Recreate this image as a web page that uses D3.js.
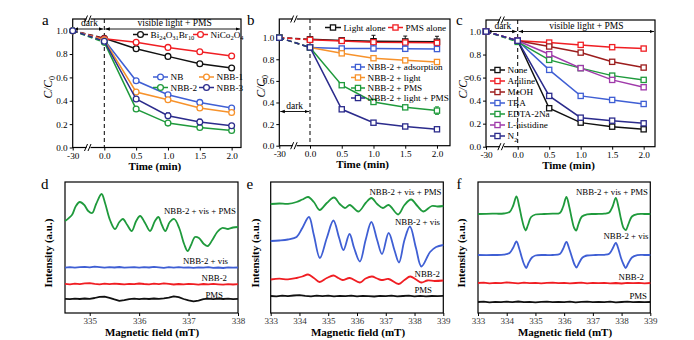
<!DOCTYPE html>
<html>
<head>
<meta charset="utf-8">
<script src="https://cdn.jsdelivr.net/npm/d3@7"></script>
<style>
  body { margin: 0; background: #fff; }
  svg, svg text { font-family: "Liberation Serif", "Times New Roman", Times, serif; }
</style>
</head>
<body>
<div id="chart"></div>
<script>
// ---------- data: degradation panels (a, b, c) ----------
const times = [-30, 0, 0.5, 1.0, 1.5, 2.0];
const timeLabels = ["-30", "0.0", "0.5", "1.0", "1.5", "2.0"];
const ratioTicks = [0, 0.2, 0.4, 0.6, 0.8, 1.0];

// a: catalysts
const aNames = ["Bi_24O_31Br_10", "NiCo_2O_4", "NB", "NBB-1", "NBB-2", "NBB-3"];
const aBiOBr = [1.0, 0.935, 0.846, 0.78, 0.717, 0.68];
const aNiCo = [1.0, 0.93, 0.90, 0.857, 0.82, 0.783];
const aNB = [1.0, 0.92, 0.571, 0.452, 0.386, 0.338];
const aNBB1 = [1.0, 0.92, 0.475, 0.409, 0.338, 0.30];
const aNBB2 = [1.0, 0.90, 0.329, 0.209, 0.171, 0.146];
const aNBB3 = [1.0, 0.91, 0.415, 0.272, 0.218, 0.186];
const aErrNB = [0, 0.01, 0.01, 0.015, 0.02, 0.015];
const aErrNBB3 = [0, 0.01, 0.01, 0.025, 0.025, 0.02];

// b: control experiments
const bNames = ["Light alone", "PMS alone", "NBB-2 + adsorption", "NBB-2 + light", "NBB-2 + PMS", "NBB-2 + light + PMS"];
const bLight = [1.0, 0.985, 0.975, 0.967, 0.965, 0.963];
const bPMS = [1.0, 0.98, 0.97, 0.958, 0.955, 0.952];
const bAdsorb = [1.0, 0.91, 0.90, 0.90, 0.897, 0.895];
const bLightCat = [1.0, 0.91, 0.855, 0.81, 0.79, 0.775];
const bPMSCat = [1.0, 0.91, 0.56, 0.405, 0.355, 0.325];
const bAll = [1.0, 0.91, 0.337, 0.213, 0.178, 0.152];
const bErrLight = [0, 0.02, 0.015, 0.055, 0.05, 0.05];
const bErrPMS = [0, 0.015, 0.01, 0.02, 0.02, 0.02];
const bErrAdsorb = [0, 0.01, 0.01, 0.02, 0.025, 0.02];
const bErrPMSCat = [0, 0, 0.01, 0.02, 0.015, 0.035];

// c: scavengers
const cNames = ["None", "Aniline", "MeOH", "TBA", "EDTA-2Na", "L-histidine", "N_2"];
const cNone = [1.0, 0.92, 0.334, 0.209, 0.174, 0.151];
const cAniline = [1.0, 0.92, 0.904, 0.884, 0.864, 0.852];
const cMeOH = [1.0, 0.92, 0.87, 0.817, 0.737, 0.687];
const cTBA = [1.0, 0.92, 0.667, 0.441, 0.406, 0.371];
const cEDTA = [1.0, 0.91, 0.754, 0.682, 0.617, 0.58];
const cHis = [1.0, 0.92, 0.803, 0.682, 0.58, 0.516];
const cN2 = [1.0, 0.92, 0.441, 0.252, 0.226, 0.203];

// ---------- data: EPR panels (d, e, f) ----------
const dField = [334.5, 334.6, 334.7, 334.8, 334.9, 335.0, 335.1, 335.2, 335.3, 335.4, 335.5, 335.6,
  335.7, 335.8, 335.9, 336.0, 336.1, 336.2, 336.3, 336.4, 336.5, 336.6, 336.7, 336.8, 336.9, 337.0,
  337.1, 337.2, 337.3, 337.4, 337.5, 337.6, 337.7, 337.8, 337.9, 338.0];
const dVis = [45.3, 45.9, 45.4, 45.8, 46.2, 45.6, 46.4, 45.9, 45.3, 45.8, 45.5, 46.0, 45.4, 45.7, 45.9,
  45.3, 45.8, 45.5, 46.1, 45.6, 45.2, 45.8, 45.4, 45.9, 45.3, 45.6, 45.1, 45.7, 45.4, 45.8, 45.2, 45.5,
  45.0, 45.6, 45.3, 45.5];
const dCat = [29.2, 28.6, 29.4, 28.9, 29.6, 29.8, 29.1, 28.7, 29.3, 28.8, 29.4, 29.0, 28.6, 29.2, 28.9,
  29.5, 29.0, 28.7, 29.3, 28.8, 29.6, 29.1, 28.5, 29.0, 28.6, 29.2, 28.8, 28.4, 29.0, 28.6, 29.1, 28.7,
  28.3, 28.9, 28.5, 28.9];
const dPMS = [14.2, 13.8, 14.3, 14.0, 14.5, 14.2, 15.0, 16.2, 16.4, 15.2, 13.6, 12.2, 12.8, 13.9, 14.3,
  13.9, 14.4, 14.0, 14.5, 14.1, 14.6, 15.4, 16.6, 15.8, 14.0, 12.6, 11.6, 12.4, 13.8, 14.3, 13.9, 14.4,
  14.0, 14.3, 13.9, 14.1];
const dVisPMS = [[334.5, 92], [334.64, 98], [334.72, 107], [334.8, 111], [334.89, 108], [334.97, 102],
  [335.05, 100], [335.13, 109], [335.24, 119], [335.31, 110], [335.41, 93], [335.51, 84], [335.6, 91],
  [335.67, 94], [335.76, 88], [335.85, 82], [335.94, 92], [336.02, 97], [336.12, 90], [336.22, 82],
  [336.32, 92], [336.39, 96], [336.46, 88], [336.53, 82], [336.62, 91], [336.71, 94], [336.81, 85],
  [336.91, 69], [336.98, 62], [337.05, 68], [337.13, 76], [337.21, 75], [337.31, 69], [337.39, 67],
  [337.48, 73], [337.58, 81], [337.68, 85], [337.8, 84], [337.9, 85.5], [338.0, 86]];

const efField = [333.0, 333.2, 333.4, 333.6, 333.8, 334.0, 334.2, 334.4, 334.6, 334.8, 335.0, 335.2,
  335.4, 335.6, 335.8, 336.0, 336.2, 336.4, 336.6, 336.8, 337.0, 337.2, 337.4, 337.6, 337.8, 338.0,
  338.2, 338.4, 338.6, 338.8, 339.0];
const ePMS = [17.0, 16.6, 17.3, 16.8, 17.5, 17.9, 17.2, 16.7, 17.4, 16.9, 17.3, 16.6, 17.1, 16.8, 17.4,
  16.7, 17.2, 16.9, 16.5, 17.1, 16.8, 17.3, 16.6, 17.0, 17.4, 16.7, 17.1, 16.6, 17.0, 16.8, 17.1];
const eCat = [[333.0, 33.5], [333.3, 34.3], [333.6, 33.6], [333.9, 35], [334.1, 36.5], [334.3, 38.5],
  [334.5, 35], [334.7, 31], [334.95, 35], [335.18, 37.5], [335.35, 35], [335.5, 33], [335.75, 35],
  [336.1, 30.5], [336.3, 34.5], [336.52, 36.5], [336.7, 34.5], [336.85, 33], [337.1, 34], [337.45, 29],
  [337.65, 33], [337.85, 36.5], [338.05, 33.5], [338.24, 30.5], [338.45, 32.5], [338.7, 32], [339.0, 32.5]];
const eVis = [[333.0, 72], [333.3, 72.5], [333.6, 73.5], [333.9, 76], [334.1, 85], [334.33, 96],
  [334.5, 78], [334.71, 55], [334.95, 75], [335.18, 92.5], [335.38, 75], [335.53, 63], [335.74, 79],
  [335.9, 65], [336.1, 51.5], [336.3, 73], [336.5, 91], [336.7, 73], [336.87, 59], [337.1, 80],
  [337.3, 63], [337.46, 50.5], [337.65, 73], [337.84, 86.5], [338.05, 65], [338.24, 46.5],
  [338.54, 61], [338.75, 66], [339.0, 68]];
const eVisPMS = [[333.0, 109], [333.3, 109.5], [333.6, 109.2], [333.9, 111], [334.1, 113.5], [334.3, 116],
  [334.5, 111], [334.7, 103], [334.95, 110], [335.2, 115.5], [335.4, 109], [335.58, 105], [335.75, 108],
  [336.05, 101.5], [336.3, 110], [336.5, 115], [336.7, 109], [336.9, 105], [337.1, 108], [337.43, 98.5],
  [337.65, 108], [337.88, 113.5], [338.1, 107], [338.3, 101.5], [338.6, 107], [338.8, 106.5], [339.0, 107]];

const fPMS = [11.0, 11.4, 10.7, 11.2, 10.8, 11.3, 10.9, 11.5, 10.8, 11.2, 10.7, 11.1, 11.4, 10.8, 11.2,
  10.9, 11.3, 10.7, 11.1, 11.4, 10.8, 11.2, 10.9, 11.3, 10.6, 11.0, 11.3, 10.8, 11.1, 10.9, 11.0];
const fCat = [30.0, 30.4, 29.7, 30.2, 29.8, 30.6, 30.1, 29.6, 30.3, 29.9, 30.2, 29.7, 30.1, 30.4, 29.8,
  30.2, 29.6, 30.0, 30.3, 29.7, 30.1, 29.8, 30.2, 29.6, 30.0, 29.5, 30.1, 29.8, 30.2, 29.7, 30.0];
const fVis = [[333.0, 58], [333.5, 58], [333.9, 58.3], [334.1, 60], [334.22, 65], [334.34, 71.5],
  [334.44, 64], [334.52, 56], [334.6, 49], [334.68, 45], [334.76, 50], [334.88, 55.5], [335.0, 57.5],
  [335.3, 58], [335.6, 58], [335.85, 59], [335.96, 64], [336.08, 71], [336.18, 64], [336.27, 56],
  [336.36, 48.5], [336.43, 45.5], [336.52, 50], [336.64, 55.5], [336.8, 57.5], [337.1, 58], [337.4, 58.2],
  [337.57, 59.3], [337.68, 64], [337.8, 70], [337.9, 63], [337.98, 55], [338.07, 48.5], [338.14, 45],
  [338.23, 49.5], [338.36, 55.5], [338.55, 57.8], [338.8, 58], [339.0, 58]];
const fVisPMS = [[333.0, 99], [333.5, 99.3], [333.9, 99.5], [334.1, 101], [334.22, 107], [334.34, 116.5],
  [334.44, 106], [334.52, 95], [334.6, 86], [334.66, 82.5], [334.74, 88], [334.85, 96], [335.0, 98.5],
  [335.3, 99], [335.6, 99.3], [335.85, 100], [335.96, 106], [336.08, 116], [336.18, 106], [336.26, 95],
  [336.35, 85], [336.42, 82.5], [336.5, 89], [336.62, 96.5], [336.8, 98.7], [337.1, 99], [337.4, 99.3],
  [337.57, 100.5], [337.68, 106], [337.8, 115], [337.9, 105], [337.98, 94], [338.07, 85], [338.15, 83],
  [338.24, 89], [338.36, 96.5], [338.55, 98.8], [338.8, 99], [339.0, 99]];

const eprLabels = ["NBB-2 + vis + PMS", "NBB-2 + vis", "NBB-2", "PMS"];

// ---------- drawing ----------
const W = 694, H = 340;
const FONT = "'Liberation Serif', 'Times New Roman', Times, serif";
const col = {
  black: "#111111", red: "#f01e23", blue: "#3f5fd4", orange: "#f7922b",
  green: "#1f9a3c", navy: "#2b2b8c", maroon: "#9c1d1d", purple: "#a03aaa"
};

const svg = d3.select("#chart").append("svg")
  .attr("width", W).attr("height", H)
  .attr("font-family", FONT);

svg.append("defs").append("marker")
  .attr("id", "arr").attr("viewBox", "0 0 8 8").attr("refX", 8).attr("refY", 4)
  .attr("markerWidth", 5).attr("markerHeight", 5).attr("orient", "auto-start-reverse")
  .append("path").attr("d", "M0,0.8L8,4L0,7.2Z").attr("fill", "#000");

// text with _digits as subscripts
function richText(sel, str, size) {
  let low = false;
  str.split(/(_\d+)/).filter(s => s).forEach(p => {
    const sub = p[0] === "_";
    const t = sel.append("tspan").text(sub ? p.slice(1) : p);
    if (sub) { t.attr("font-size", size * 0.7).attr("dy", size * 0.3); low = true; }
    else if (low) { t.attr("dy", -size * 0.3); low = false; }
  });
}

function panelLetter(txt, x, y) {
  svg.append("text").attr("x", x).attr("y", y).attr("font-size", 15).text(txt);
}

function styleAxis(g, size) {
  g.attr("font-family", FONT).attr("font-size", size);
  g.select(".domain").remove();
  g.selectAll(".tick line").attr("stroke", "#000");
}

function timePanel(o) {
  const g = svg.append("g");
  const x = d3.scaleLinear().domain([-30, 0, o.xMax]).range([o.left, o.x0, o.right]);
  const y = d3.scaleLinear().domain([0, o.yMax]).range([o.bottom, o.top]);

  g.append("g").attr("transform", `translate(0,${o.bottom})`)
    .call(d3.axisBottom(x).tickValues(times).tickFormat((d, i) => timeLabels[i]).tickSize(3).tickPadding(1.5))
    .call(a => styleAxis(a, 9.2));
  g.append("g").attr("transform", `translate(${o.left},0)`)
    .call(d3.axisLeft(y).tickValues(ratioTicks).tickFormat(d3.format(".1f")).tickSize(3).tickPadding(2))
    .call(a => styleAxis(a, 9.2));

  // frame
  g.append("rect").attr("x", o.left).attr("y", o.top)
    .attr("width", o.right - o.left).attr("height", o.bottom - o.top)
    .attr("fill", "none").attr("stroke", "#000").attr("stroke-width", 1.2);

  // axis breaks
  const bx = x(-15);
  [o.top, o.bottom].forEach(by => {
    g.append("rect").attr("x", bx - 2).attr("y", by - 2).attr("width", 4).attr("height", 4).attr("fill", "#fff");
    [-2.5, 1].forEach(dx => g.append("line")
      .attr("x1", bx + dx - 1.5).attr("y1", by + 3.5).attr("x2", bx + dx + 1.5).attr("y2", by - 3.5)
      .attr("stroke", "#000").attr("stroke-width", 1));
  });

  // dark / light dividing line
  g.append("line").attr("x1", x(0)).attr("x2", x(0)).attr("y1", o.top).attr("y2", o.bottom)
    .attr("stroke", "#000").attr("stroke-width", 1).attr("stroke-dasharray", "4,3");

  o.arrows.forEach(a => {
    g.append("line").attr("x1", x(a.from) + 1).attr("x2", x(a.to) - 1).attr("y1", a.y).attr("y2", a.y)
      .attr("stroke", "#000").attr("stroke-width", 0.9)
      .attr("marker-start", "url(#arr)").attr("marker-end", "url(#arr)");
    g.append("text").attr("x", (x(a.from) + x(a.to)) / 2 + (a.shift || 0)).attr("y", a.y - 3)
      .attr("text-anchor", "middle").attr("font-size", 9.5).text(a.label);
  });

  const line = d3.line().x(d => x(d[0])).y(d => y(d[1]));
  const drawMarker = (sel, cx, cy, c) => {
    if (o.circles) {
      sel.append("circle").attr("cx", cx).attr("cy", cy).attr("r", 2.9)
        .attr("fill", "#fff").attr("stroke", c).attr("stroke-width", 1.3);
    } else {
      sel.append("rect").attr("x", cx - 2.6).attr("y", cy - 2.6).attr("width", 5.2).attr("height", 5.2)
        .attr("fill", "#fff").attr("stroke", c).attr("stroke-width", 1.3);
    }
  };

  o.series.forEach(s => {
    const pts = times.map((t, i) => [t, s.vals[i]]);
    g.append("path").attr("d", line(pts.slice(0, 2))).attr("fill", "none")
      .attr("stroke", s.color).attr("stroke-width", 1.5).attr("stroke-dasharray", "5,3");
    g.append("path").attr("d", line(pts.slice(1))).attr("fill", "none")
      .attr("stroke", s.color).attr("stroke-width", 1.5);
    if (s.err) {
      pts.forEach((p, i) => {
        const e = s.err[i];
        if (!e) return;
        const cx = x(p[0]);
        g.append("line").attr("x1", cx).attr("x2", cx).attr("y1", y(p[1] - e)).attr("y2", y(p[1] + e))
          .attr("stroke", s.color).attr("stroke-width", 1);
        [p[1] - e, p[1] + e].forEach(v => g.append("line").attr("x1", cx - 2).attr("x2", cx + 2)
          .attr("y1", y(v)).attr("y2", y(v)).attr("stroke", s.color).attr("stroke-width", 1));
      });
    }
    pts.forEach(p => drawMarker(g, x(p[0]), y(p[1]), s.color));
  });

  // legend
  o.legend.forEach(l => {
    const s = o.series[l.s];
    const len = l.len || 15;
    g.append("line").attr("x1", l.x).attr("x2", l.x + len).attr("y1", l.y).attr("y2", l.y)
      .attr("stroke", s.color).attr("stroke-width", 1.5);
    drawMarker(g, l.x + len / 2, l.y, s.color);
    const t = g.append("text").attr("x", l.x + len + 2.5).attr("y", l.y + 3.2).attr("font-size", 9.2);
    richText(t, s.name, 9.2);
  });

  // axis titles
  g.append("text").attr("x", (o.left + o.right) / 2 - 2).attr("y", o.bottom + 22.5)
    .attr("text-anchor", "middle").attr("font-size", 11).attr("font-weight", "bold").text("Time (min)");
  const yt = g.append("text").attr("transform", `translate(${o.yTitleX},${(o.top + o.bottom) / 2 + 4}) rotate(-90)`)
    .attr("text-anchor", "middle").attr("font-size", 11.5).attr("font-style", "italic");
  yt.append("tspan").text("C/C");
  yt.append("tspan").attr("font-size", 8).attr("dy", 3).attr("font-style", "normal").text("0");
}

// ---- panel a ----
timePanel({
  left: 72.7, right: 241, top: 19, bottom: 147.5, x0: 104.3, xMax: 2.147, yMax: 1.1,
  circles: true, yTitleX: 52,
  series: [
    { name: aNames[0], vals: aBiOBr, color: col.black },
    { name: aNames[1], vals: aNiCo, color: col.red },
    { name: aNames[2], vals: aNB, color: col.blue, err: aErrNB },
    { name: aNames[3], vals: aNBB1, color: col.orange },
    { name: aNames[4], vals: aNBB2, color: col.green },
    { name: aNames[5], vals: aNBB3, color: col.navy, err: aErrNBB3 }
  ],
  legend: [
    { s: 0, x: 133, y: 34.5 }, { s: 1, x: 193, y: 34.5 },
    { s: 2, x: 153, y: 77 }, { s: 3, x: 199, y: 77 },
    { s: 4, x: 153, y: 87.5 }, { s: 5, x: 199, y: 87.5 }
  ],
  arrows: [
    { from: -30, to: 0, y: 29, label: "dark", shift: 1 },
    { from: 0, to: 2.147, y: 29, label: "visible light + PMS", shift: 2 }
  ]
});

// ---- panel b ----
timePanel({
  left: 279.3, right: 450, top: 19, bottom: 145.7, x0: 310, xMax: 2.205, yMax: 1.173,
  circles: false, yTitleX: 265,
  series: [
    { name: bNames[0], vals: bLight, color: col.black, err: bErrLight },
    { name: bNames[1], vals: bPMS, color: col.red, err: bErrPMS },
    { name: bNames[2], vals: bAdsorb, color: col.blue, err: bErrAdsorb },
    { name: bNames[3], vals: bLightCat, color: col.orange },
    { name: bNames[4], vals: bPMSCat, color: col.green, err: bErrPMSCat },
    { name: bNames[5], vals: bAll, color: col.navy }
  ],
  legend: [
    { s: 0, x: 325, y: 27.5, len: 16 }, { s: 1, x: 388, y: 27.5, len: 15 },
    { s: 2, x: 351, y: 67, len: 14 }, { s: 3, x: 351, y: 77.5, len: 14 },
    { s: 4, x: 351, y: 88, len: 14 }, { s: 5, x: 351, y: 98, len: 14 }
  ],
  arrows: [
    { from: -30, to: 0, y: 111.5, label: "dark" }
  ]
});

// ---- panel c ----
timePanel({
  left: 486, right: 655, top: 20, bottom: 146.7, x0: 517.7, xMax: 2.18, yMax: 1.1,
  circles: false, yTitleX: 467,
  series: [
    { name: cNames[0], vals: cNone, color: col.black },
    { name: cNames[1], vals: cAniline, color: col.red },
    { name: cNames[2], vals: cMeOH, color: col.maroon },
    { name: cNames[3], vals: cTBA, color: col.blue },
    { name: cNames[4], vals: cEDTA, color: col.green },
    { name: cNames[5], vals: cHis, color: col.purple },
    { name: cNames[6], vals: cN2, color: col.navy }
  ],
  legend: [0, 1, 2, 3, 4, 5, 6].map((s, i) => ({ s, x: 490, y: 70 + i * 11 })),
  arrows: [
    { from: -30, to: 0, y: 31.5, label: "dark", shift: 1 },
    { from: 0, to: 2.18, y: 31.5, label: "visible light + PMS", shift: 0 }
  ]
});

// ---- EPR panels ----
const yEpr = d3.scaleLinear().domain([0, 131]).range([313, 182]);

function eprPanel(o) {
  const g = svg.append("g");
  const x = d3.scaleLinear().domain(o.domain).range([o.left, o.right]);
  g.append("g").attr("transform", `translate(0,${yEpr(0)})`)
    .call(d3.axisBottom(x).tickValues(o.ticks).tickFormat(d3.format("d")).tickSize(3).tickPadding(1.5))
    .call(a => styleAxis(a, 9))
    .call(a => a.selectAll("text").attr("fill", "#333"));
  g.append("rect").attr("x", o.left).attr("y", yEpr(131))
    .attr("width", o.right - o.left).attr("height", yEpr(0) - yEpr(131))
    .attr("fill", "none").attr("stroke", "#000").attr("stroke-width", 1.2);

  const line = d3.line().x(d => x(d[0])).y(d => yEpr(d[1]));
  const smooth = d3.line().x(d => x(d[0])).y(d => yEpr(d[1])).curve(d3.curveCatmullRom.alpha(0.5));
  o.series.forEach(s => {
    g.append("path").attr("d", (s.smooth ? smooth : line)(s.pts)).attr("fill", "none")
      .attr("stroke", s.color).attr("stroke-width", 1.8).attr("stroke-linejoin", "round");
  });
  o.labels.forEach((l, i) => {
    g.append("text").attr("x", l.x).attr("y", l.y).attr("text-anchor", l.anchor || "end")
      .attr("font-size", 8.8).text(eprLabels[i]);
  });
  g.append("text").attr("x", o.titleX).attr("y", 336).attr("text-anchor", "middle")
    .attr("font-size", 11).attr("font-weight", "bold").text("Magnetic field (mT)");
  g.append("text").attr("transform", `translate(${o.yTitleX},253) rotate(-90)`)
    .attr("text-anchor", "middle").attr("font-size", 11).attr("font-weight", "bold").text("Intensity (a.u.)");
}

const zip = (xs, vs) => xs.map((v, i) => [v, vs[i]]);

eprPanel({
  domain: [334.5, 338], left: 65, right: 238, ticks: [335, 336, 337, 338], titleX: 152, yTitleX: 51.5,
  series: [
    { pts: zip(dField, dPMS), color: col.black },
    { pts: zip(dField, dCat), color: col.red },
    { pts: zip(dField, dVis), color: col.blue },
    { pts: dVisPMS, color: col.green, smooth: true }
  ],
  labels: [
    { x: 236, y: 214 }, { x: 228, y: 264 }, { x: 227, y: 281 }, { x: 223, y: 297.5 }
  ]
});

eprPanel({
  domain: [333, 339], left: 270.7, right: 443.3, ticks: [333, 334, 335, 336, 337, 338, 339], titleX: 358, yTitleX: 259,
  series: [
    { pts: zip(efField, ePMS), color: col.black },
    { pts: eCat, color: col.red, smooth: true },
    { pts: eVis, color: col.blue, smooth: true },
    { pts: eVisPMS, color: col.green, smooth: true }
  ],
  labels: [
    { x: 441.5, y: 194.5 }, { x: 440, y: 224.5 }, { x: 440, y: 276.5 }, { x: 432, y: 293 }
  ]
});

eprPanel({
  domain: [333, 339], left: 478, right: 650.3, ticks: [333, 334, 335, 336, 337, 338, 339], titleX: 565, yTitleX: 465,
  series: [
    { pts: zip(efField, fPMS), color: col.black },
    { pts: zip(efField, fCat), color: col.red },
    { pts: fVis, color: col.blue, smooth: true },
    { pts: fVisPMS, color: col.green, smooth: true }
  ],
  labels: [
    { x: 648, y: 195 }, { x: 648.5, y: 238.5 }, { x: 644, y: 280 }, { x: 647, y: 298.5 }
  ]
});

panelLetter("a", 42, 25);
panelLetter("b", 247, 25);
panelLetter("c", 456, 25);
panelLetter("d", 41, 188.5);
panelLetter("e", 246.5, 188.5);
panelLetter("f", 456.5, 188.5);
</script>
</body>
</html>
